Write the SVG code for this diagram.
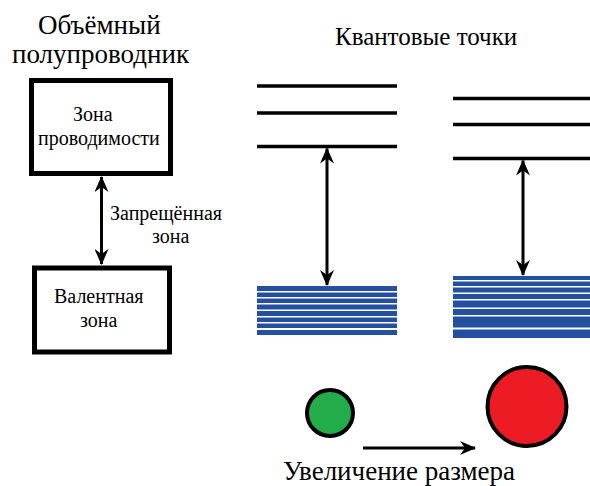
<svg xmlns="http://www.w3.org/2000/svg" width="590" height="486" viewBox="0 0 590 486">
<defs>
<marker id="ah" viewBox="0 0 16 14" refX="15" refY="7" markerWidth="16" markerHeight="14" markerUnits="userSpaceOnUse" orient="auto-start-reverse">
<path d="M0,0 L16,7 L0,14 L5,7 z" fill="#000"/>
</marker>
</defs>
<rect width="590" height="486" fill="#fff"/>
<g id="titles">
<text x="38" y="34" font-family="Liberation Serif" font-size="27">Объёмный</text>
<text x="12" y="63" font-family="Liberation Serif" font-size="27">полупроводник</text>
<text x="335" y="45" font-family="Liberation Serif" font-size="25">Квантовые точки</text>
</g>
<g id="conduction">
<rect x="31.5" y="80.5" width="139" height="93" fill="#fff" stroke="#000" stroke-width="5"/>
<text x="73" y="121" font-family="Liberation Serif" font-size="20">Зона</text>
<text x="38" y="145" font-family="Liberation Serif" font-size="20">проводимости</text>
</g>
<g id="valence">
<rect x="34.5" y="268" width="135" height="84" fill="#fff" stroke="#000" stroke-width="5"/>
<text x="54" y="303" font-family="Liberation Serif" font-size="20">Валентная</text>
<text x="80" y="327" font-family="Liberation Serif" font-size="20">зона</text>
</g>
<g id="gap-label">
<text x="110" y="220" font-family="Liberation Serif" font-size="20">Запрещённая</text>
<text x="152" y="243" font-family="Liberation Serif" font-size="20">зона</text>
</g>
<g id="qd-small">
<g stroke="#000" stroke-width="3.5">
<line x1="257" y1="86" x2="397" y2="86"/>
<line x1="257" y1="113" x2="397" y2="113"/>
<line x1="257" y1="146.5" x2="397" y2="146.5"/>
</g>
<g fill="#24509f">
<rect x="257" y="286" width="140" height="5"/>
<rect x="257" y="292.5" width="140" height="4.5"/>
<rect x="257" y="298.5" width="140" height="4.5"/>
<rect x="257" y="304.5" width="140" height="5"/>
<rect x="257" y="311" width="140" height="5"/>
<rect x="257" y="317.5" width="140" height="4.5"/>
<rect x="257" y="323.5" width="140" height="4.5"/>
<rect x="257" y="330" width="140" height="5"/>
</g>
</g>
<g id="qd-large">
<g stroke="#000" stroke-width="3.5">
<line x1="453" y1="98.5" x2="590" y2="98.5"/>
<line x1="453" y1="124.5" x2="590" y2="124.5"/>
<line x1="453" y1="158.5" x2="590" y2="158.5"/>
</g>
<g fill="#24509f">
<rect x="453" y="276" width="137" height="4"/>
<rect x="453" y="281.5" width="137" height="4.5"/>
<rect x="453" y="287.5" width="137" height="5"/>
<rect x="453" y="294" width="137" height="5"/>
<rect x="453" y="300.5" width="137" height="7"/>
<rect x="453" y="309" width="137" height="6"/>
<rect x="453" y="316.5" width="137" height="11"/>
<rect x="453" y="329.5" width="137" height="8.5"/>
</g>
</g>
<g id="dot-small">
<circle cx="330" cy="413" r="23" fill="#23ac4a" stroke="#000" stroke-width="4"/>
</g>
<g id="dot-large">
<circle cx="527" cy="406.5" r="39.5" fill="#ec1c24" stroke="#000" stroke-width="4"/>
</g>
<text id="size-label" x="283" y="480" font-family="Liberation Serif" font-size="27">Увеличение размера</text>
<g id="connectors" stroke="#000" stroke-width="3" fill="none">
<line x1="101.5" y1="177" x2="101.5" y2="264" marker-start="url(#ah)" marker-end="url(#ah)"/>
<line x1="327" y1="148.5" x2="327" y2="285" marker-start="url(#ah)" marker-end="url(#ah)"/>
<line x1="523" y1="160.5" x2="523" y2="275" marker-start="url(#ah)" marker-end="url(#ah)"/>
<line x1="363" y1="448" x2="475" y2="448" marker-end="url(#ah)"/>
</g>
</svg>
